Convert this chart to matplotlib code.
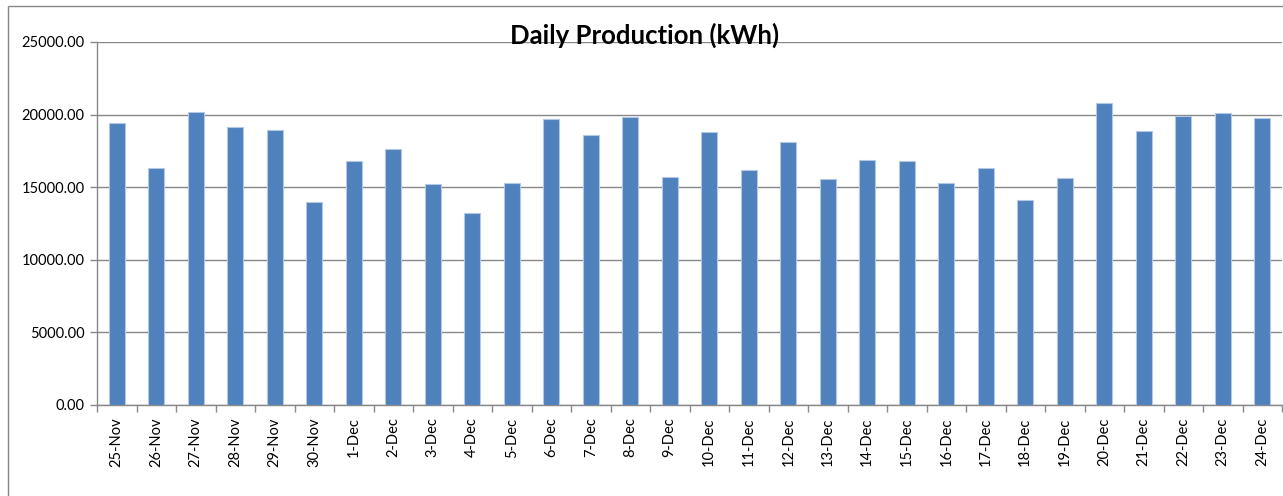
import matplotlib
matplotlib.use("Agg")
import matplotlib.pyplot as plt
from matplotlib.patches import Rectangle
import matplotlib.ticker as mticker
import numpy as np

# ── Data ──────────────────────────────────────────────────────────────────────
days = ["25-Nov", "26-Nov", "27-Nov", "28-Nov", "29-Nov", "30-Nov",
        "1-Dec", "2-Dec", "3-Dec", "4-Dec", "5-Dec", "6-Dec", "7-Dec",
        "8-Dec", "9-Dec", "10-Dec", "11-Dec", "12-Dec", "13-Dec", "14-Dec",
        "15-Dec", "16-Dec", "17-Dec", "18-Dec", "19-Dec", "20-Dec",
        "21-Dec", "22-Dec", "23-Dec", "24-Dec"]
production_kwh = [19400, 16350, 20160, 19130, 18960, 13980,
                  16830, 17610, 15220, 13190, 15290, 19720, 18620,
                  19860, 15680, 18800, 16210, 18110, 15560, 16870,
                  16830, 15290, 16350, 14140, 15660, 20810,
                  18850, 19930, 20140, 19770]
y_ticks = [0, 5000, 10000, 15000, 20000, 25000]

# ── Style ─────────────────────────────────────────────────────────────────────
plt.rcParams["font.family"] = ["Lato", "DejaVu Sans"]
bar_col = "#4F81BD"
edge_col = "#B3C8E3"
grid_col = "#888888"
W, H = 1283, 496

fig = plt.figure(figsize=(W / 100, H / 100), dpi=100)
ax = fig.add_axes([97 / W, (H - 405) / H, (1282 - 97) / W, (405 - 42) / H])

x = np.arange(len(days))
ax.bar(x, production_kwh, width=0.4, color=bar_col,
       edgecolor=edge_col, linewidth=0.8, zorder=3)

ax.set_xlim(-0.5, len(days) - 0.5)
ax.set_ylim(0, 25000)
ax.set_yticks(y_ticks)
ax.yaxis.set_major_formatter(mticker.FuncFormatter(lambda v, _: f"{v:.2f}"))
ax.yaxis.grid(True, color=grid_col, linewidth=1.0, zorder=0)
ax.set_axisbelow(True)

ax.set_xticks(x)
ax.set_xticklabels(days, rotation=90, fontsize=10.5)
ax.set_xticks(np.arange(len(days) + 1) - 0.5, minor=True)
ax.tick_params(axis="x", which="major", length=0, pad=9)
ax.tick_params(axis="x", which="minor", length=5, color=grid_col, width=1.0)
ax.tick_params(axis="y", length=5, color=grid_col, width=1.0,
               labelsize=10.5, pad=4)

for side in ["top", "right"]:
    ax.spines[side].set_visible(False)
for side in ["left", "bottom"]:
    ax.spines[side].set_color(grid_col)
    ax.spines[side].set_linewidth(1.0)

fig.text(645 / W, 1 - 35 / H, "Daily Production (kWh)",
         ha="center", va="center", fontsize=18.5, fontweight="bold")

# Chart-area border (runs off the right and bottom edges)
fig.patches.append(Rectangle((8 / W, -0.05), 1.2, 1.05 - 6 / H,
                             transform=fig.transFigure, fill=False,
                             edgecolor=grid_col, linewidth=1.0))

fig.savefig("out.png", dpi=100)
